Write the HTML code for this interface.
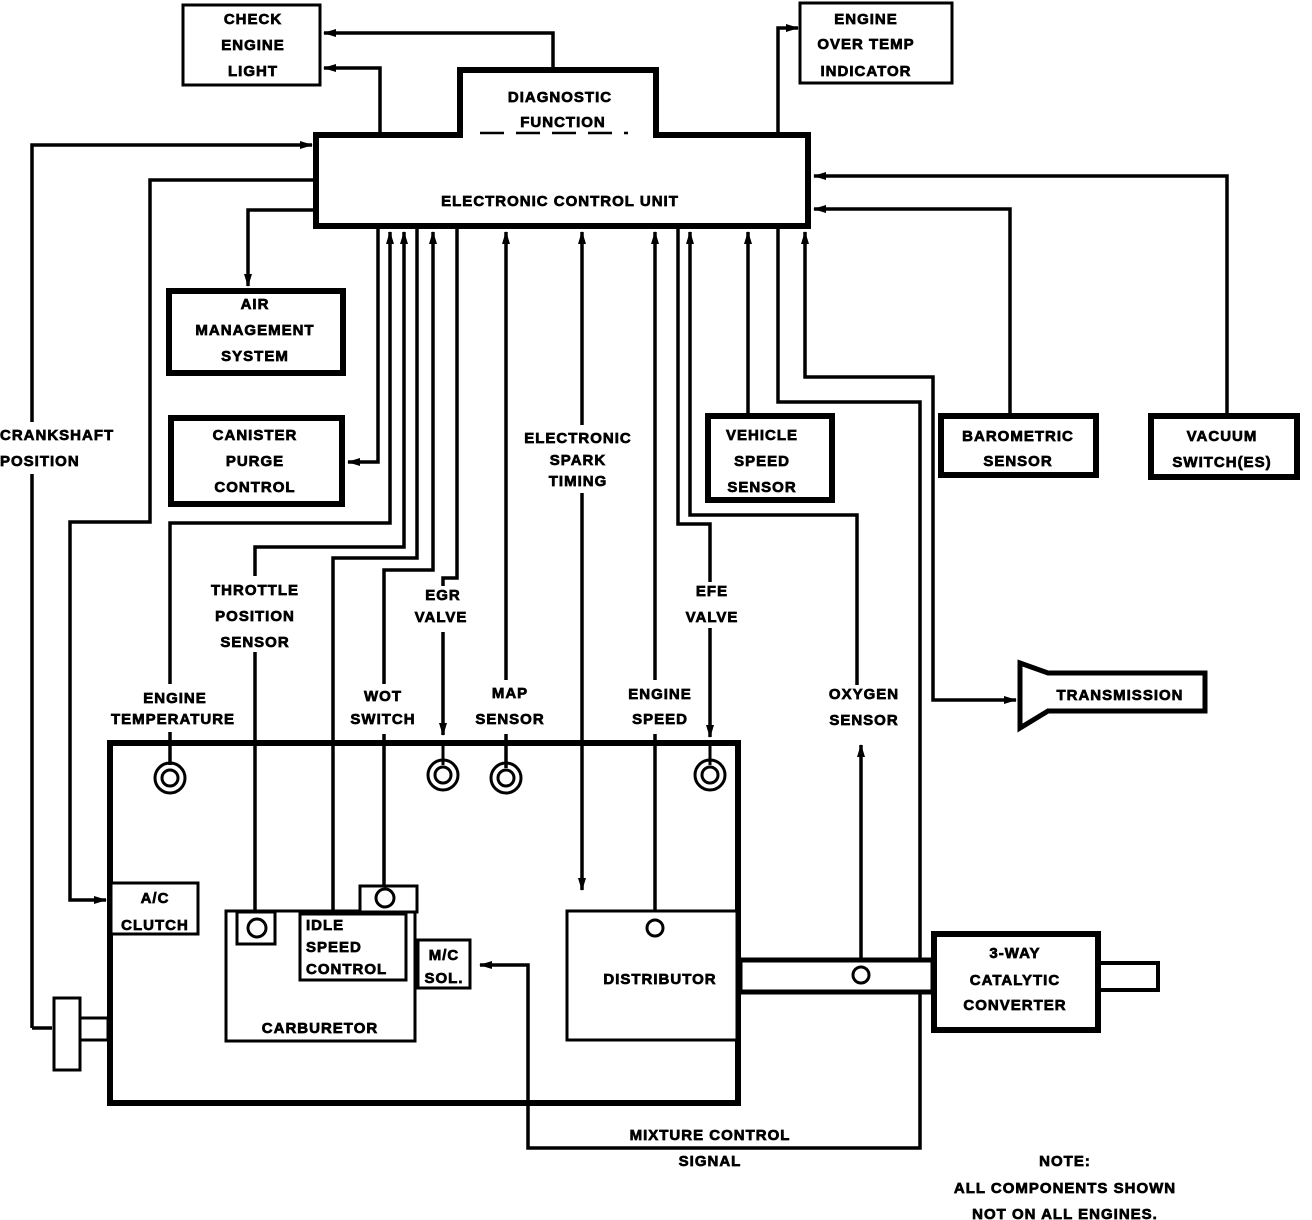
<!DOCTYPE html>
<html><head><meta charset="utf-8"><style>
html,body{margin:0;padding:0;background:#fff;}
svg{display:block;}
text{font-family:"Liberation Sans",sans-serif;font-weight:bold;font-size:15px;fill:#000;stroke:#000;stroke-width:0.7px;text-anchor:middle;letter-spacing:1px;}
</style></head><body>
<svg width="1312" height="1220" viewBox="0 0 1312 1220" xmlns="http://www.w3.org/2000/svg">
<defs>
<marker id="a" markerUnits="userSpaceOnUse" markerWidth="14" markerHeight="10" refX="12" refY="5" orient="auto-start-reverse">
<path d="M0,1 L13,5 L0,9 z" fill="#000"/>
</marker>
</defs>
<rect width="1312" height="1220" fill="#fff"/>
<g fill="none" stroke="#000" stroke-width="3.5">
<path d="M553,68 L553,33 L324,33" marker-end="url(#a)"/>
<path d="M380,135 L380,68 L324,68" marker-end="url(#a)"/>
<path d="M778,135 L778,28 L798,28" marker-end="url(#a)"/>
<path d="M32,1028 L32,145 L312,145" marker-end="url(#a)"/>
<path d="M32,1028 L52,1028"/>
<path d="M316,180 L150,180 L150,522 L70,522 L70,900 L106,900" marker-end="url(#a)"/>
<path d="M316,210 L248,210 L248,286" marker-end="url(#a)"/>
<path d="M378,226 L378,462 L348,462" marker-end="url(#a)"/>
<path d="M170,765 L170,523 L390,523 L390,232" marker-end="url(#a)"/>
<path d="M255,918 L255,547 L404,547 L404,232" marker-end="url(#a)"/>
<path d="M333,912 L333,558 L417,558 L417,226"/>
<path d="M384,887 L384,570 L433,570 L433,232" marker-end="url(#a)"/>
<path d="M457,226 L457,578 L443,578 L443,735" marker-end="url(#a)"/>
<path d="M506,768 L506,232" marker-end="url(#a)"/>
<path d="M582,890 L582,232" marker-start="url(#a)" marker-end="url(#a)"/>
<path d="M655,918 L655,232" marker-end="url(#a)"/>
<path d="M678,226 L678,524 L710,524 L710,737" marker-end="url(#a)"/>
<path d="M857,685 L857,515 L690,515 L690,232" marker-end="url(#a)"/>
<path d="M861,966 L861,745" marker-end="url(#a)"/>
<path d="M748,415 L748,232" marker-end="url(#a)"/>
<path d="M778,226 L778,402 L920,402 L920,1148 L528,1148 L528,965 L480,965" marker-end="url(#a)"/>
<path d="M805,232 L805,377 L933,377 L933,700 L1016,700" marker-start="url(#a)" marker-end="url(#a)"/>
<path d="M1010,415 L1010,209 L814,209" marker-end="url(#a)"/>
<path d="M1227,415 L1227,176 L814,176" marker-end="url(#a)"/>
</g>
<g fill="#fff">
<rect x="0" y="422" width="115" height="52"/>
<rect x="510" y="425" width="140" height="68"/>
<rect x="195" y="576" width="115" height="76"/>
<rect x="400" y="586" width="80" height="46"/>
<rect x="675" y="582" width="75" height="46"/>
<rect x="95" y="684" width="155" height="48"/>
<rect x="350" y="684" width="70" height="50"/>
<rect x="465" y="680" width="90" height="54"/>
<rect x="620" y="680" width="80" height="54"/>
</g>
<g fill="#fff" stroke="#000">
<path d="M316,135 L460,135 L460,70 L656,70 L656,135 L808,135 L808,226 L316,226 Z" stroke-width="6"/>
<rect x="183" y="5" width="137" height="80" stroke-width="3"/>
<rect x="800" y="3" width="152" height="80" stroke-width="3"/>
<rect x="169" y="291" width="174" height="82" stroke-width="6"/>
<rect x="171" y="418" width="171" height="86" stroke-width="6"/>
<rect x="708" y="416" width="124" height="84" stroke-width="6"/>
<rect x="941" y="416" width="155" height="59" stroke-width="6"/>
<rect x="1151" y="416" width="146" height="61" stroke-width="6"/>
<polygon points="1020,663 1048,673 1205,673 1205,711 1048,711 1020,728" stroke-width="5"/>
<rect x="110" y="743" width="628" height="360" stroke-width="6" fill="none"/>
<rect x="54" y="998" width="26" height="72" stroke-width="3"/>
<rect x="80" y="1018" width="28" height="22" stroke-width="3"/>
<rect x="111" y="883" width="87" height="51" stroke-width="3"/>
<rect x="226" y="911" width="189" height="130" stroke-width="3"/>
<rect x="237" y="912" width="38" height="32" stroke-width="3"/>
<rect x="360" y="886" width="57" height="26" stroke-width="3"/>
<rect x="300" y="914" width="106" height="66" stroke-width="3"/>
<rect x="418" y="940" width="52" height="48" stroke-width="3"/>
<rect x="567" y="911" width="170" height="129" stroke-width="3"/>
<rect x="740" y="960" width="193" height="32" stroke-width="5"/>
<rect x="1098" y="963" width="60" height="27" stroke-width="4"/>
<rect x="934" y="934" width="164" height="96" stroke-width="6"/>
</g>
<g fill="none" stroke="#000" stroke-width="3">
<path d="M170,743 L170,765 M443,743 L443,765 M506,743 L506,768 M710,743 L710,765"/>
<circle cx="170" cy="778" r="15"/><circle cx="170" cy="778" r="8"/>
<circle cx="443" cy="775" r="15"/><circle cx="443" cy="775" r="8"/>
<circle cx="506" cy="778" r="15"/><circle cx="506" cy="778" r="8"/>
<circle cx="710" cy="775" r="15"/><circle cx="710" cy="775" r="8"/>
<circle cx="257" cy="928" r="9" fill="#fff"/>
<circle cx="385" cy="898" r="9" fill="#fff"/>
<circle cx="655" cy="928" r="8" fill="#fff"/>
<circle cx="861" cy="975" r="8" fill="#fff"/>
<path d="M480,133 L628,133" stroke-dasharray="24,12" stroke-width="2.5"/>
</g>
<text x="253" y="24">CHECK</text><text x="253" y="50">ENGINE</text><text x="253" y="76">LIGHT</text>
<text x="866" y="24">ENGINE</text><text x="866" y="49">OVER TEMP</text><text x="866" y="76">INDICATOR</text>
<text x="560" y="102">DIAGNOSTIC</text><text x="563" y="127">FUNCTION</text>
<text x="560" y="206">ELECTRONIC CONTROL UNIT</text>
<text x="255" y="309">AIR</text><text x="255" y="335">MANAGEMENT</text><text x="255" y="361">SYSTEM</text>
<text x="255" y="440">CANISTER</text><text x="255" y="466">PURGE</text><text x="255" y="492">CONTROL</text>
<text x="0" y="440" style="text-anchor:start">CRANKSHAFT</text><text x="0" y="466" style="text-anchor:start">POSITION</text>
<text x="578" y="443">ELECTRONIC</text><text x="578" y="465">SPARK</text><text x="578" y="486">TIMING</text>
<text x="762" y="440">VEHICLE</text><text x="762" y="466">SPEED</text><text x="762" y="492">SENSOR</text>
<text x="1018" y="441">BAROMETRIC</text><text x="1018" y="466">SENSOR</text>
<text x="1222" y="441">VACUUM</text><text x="1222" y="467">SWITCH(ES)</text>
<text x="255" y="595">THROTTLE</text><text x="255" y="621">POSITION</text><text x="255" y="647">SENSOR</text>
<text x="443" y="600">EGR</text><text x="441" y="622">VALVE</text>
<text x="712" y="596">EFE</text><text x="712" y="622">VALVE</text>
<text x="175" y="703">ENGINE</text><text x="173" y="724">TEMPERATURE</text>
<text x="383" y="701">WOT</text><text x="383" y="724">SWITCH</text>
<text x="510" y="698">MAP</text><text x="510" y="724">SENSOR</text>
<text x="660" y="699">ENGINE</text><text x="660" y="724">SPEED</text>
<text x="864" y="699">OXYGEN</text><text x="864" y="725">SENSOR</text>
<text x="1120" y="700">TRANSMISSION</text>
<text x="155" y="903">A/C</text><text x="155" y="930">CLUTCH</text>
<text x="306" y="930" style="text-anchor:start">IDLE</text><text x="306" y="952" style="text-anchor:start">SPEED</text><text x="306" y="974" style="text-anchor:start">CONTROL</text>
<text x="444" y="960">M/C</text><text x="444" y="983">SOL.</text>
<text x="320" y="1033">CARBURETOR</text>
<text x="660" y="984">DISTRIBUTOR</text>
<text x="1015" y="958">3-WAY</text><text x="1015" y="985">CATALYTIC</text><text x="1015" y="1010">CONVERTER</text>
<text x="710" y="1140">MIXTURE CONTROL</text><text x="710" y="1166">SIGNAL</text>
<text x="1065" y="1166">NOTE:</text><text x="1065" y="1193">ALL COMPONENTS SHOWN</text><text x="1065" y="1219">NOT ON ALL ENGINES.</text>
</svg>
</body></html>
